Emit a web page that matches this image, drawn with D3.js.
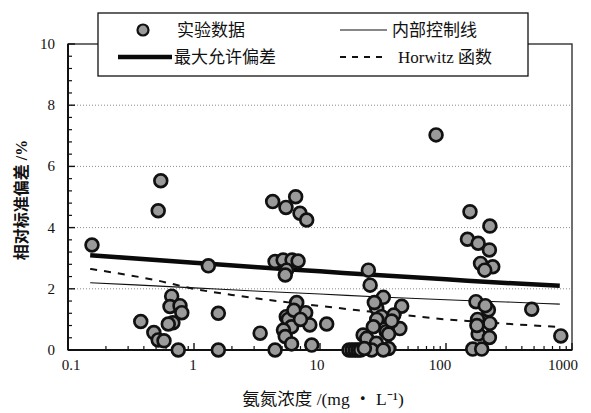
<!DOCTYPE html>
<html><head><meta charset="utf-8">
<script src="https://cdn.jsdelivr.net/npm/d3@7"></script>
<style>
html,body{margin:0;padding:0;background:#fff;}
svg{display:block;}
</style></head>
<body>
<svg id="chart" width="591" height="413"></svg>
<script>
// ---- data ----
const expConc = [
  0.155,
  0.545,0.52,1.30,0.665,0.645,0.774,0.80,0.68,0.625,0.378,0.48,0.52,0.578,0.75,1.56,1.56,
  4.21,5.37,6.41,6.94,7.84,
  4.40,5.10,6.00,6.70,5.43,5.30,
  6.53,7.70,5.40,5.60,5.95,8.30,5.13,5.30,5.95,4.40,11.3,3.35,8.60,6.20,7.00,
  24.2,25.0,
  31.8,44.5,38.5,28.2,30.8,28.2,26.5,33.5,43.0,22.0,23.5,28.0,35.0,35.0,25.7,31.8,17.0,18.0,19.0,20.0,21.0,22.5,27.0,37.0,
  83.4,155,223,148,180,221,188,235,203,
  173,217,178,223,180,221,163,192,205,176,479,815
];
const expRsd = [
  3.43,
  5.53,4.55,2.75,1.76,1.42,1.45,1.22,0.89,0.85,0.93,0.57,0.33,0.30,0.00,1.20,0.00,
  4.85,4.66,5.01,4.47,4.25,
  2.89,2.94,2.94,2.91,2.61,2.45,
  1.55,1.22,1.09,1.00,0.76,0.82,0.65,0.44,0.20,0.00,0.85,0.55,0.16,1.30,1.00,
  2.61,2.12,
  1.72,1.43,1.14,1.36,1.09,1.00,0.76,0.60,0.70,0.49,0.38,0.22,0.52,0.05,0.00,0.00,0.00,0.00,0.00,0.00,0.00,0.05,1.55,0.95,
  7.03,4.52,4.05,3.62,3.49,3.27,2.83,2.72,2.61,
  1.58,1.31,1.00,0.87,0.52,0.41,0.03,0.03,1.45,0.80,1.33,0.46
];
const lineConc   = [0.15, 1, 3, 10, 30, 100, 300, 800];
const controlRsd = [2.20, 2.03, 1.93, 1.83, 1.73, 1.64, 1.57, 1.50];
const maxRsd     = [3.10, 2.85, 2.71, 2.57, 2.44, 2.31, 2.19, 2.10];
const horwitzConc = [0.15, 0.3, 0.5, 1, 2, 5, 10, 20, 50, 100, 200, 500, 800];
const horwitzRsd  = [2.65, 2.45, 2.28, 2.00, 1.80, 1.58, 1.44, 1.30, 1.13, 1.00, 0.91, 0.80, 0.75];
const xTickValues = [0.1, 1, 10, 100, 1000];
const xTickLabels = ["0.1", "1", "10", "100", "1000"];
const yTickValues = [0, 2, 4, 6, 8, 10];
const yTickLabels = ["0", "2", "4", "6", "8", "10"];
const legendLabels = ["实验数据", "内部控制线", "最大允许偏差", "Horwitz 函数"];
const xTitle = "氨氮浓度 /(mg ・ L⁻¹)";
const yTitle = "相对标准偏差 /%";

// ---- layout ----
const L = 68, R = 572, T = 44, B = 350;
const svg = d3.select("#chart");
const serif = "'Liberation Serif','DejaVu Serif',serif";
const mixed = "'Liberation Serif','Noto Sans CJK SC',serif";

const x = d3.scaleLog().domain([0.1, 1000]).range([L, R]);
const y = d3.scaleLinear().domain([0, 10]).range([B, T]);

// gridlines
svg.append("g").selectAll("line").data([2,4,6,8]).join("line")
  .attr("x1", L).attr("x2", R).attr("y1", d => y(d)).attr("y2", d => y(d))
  .attr("stroke", "#8a8a8a").attr("stroke-width", 1).attr("stroke-dasharray", "1,2");

// frame
svg.append("rect").attr("x", L).attr("y", T).attr("width", R - L).attr("height", B - T)
  .attr("fill", "none").attr("stroke", "#222").attr("stroke-width", 1.3);
svg.append("line").attr("x1", L).attr("x2", L).attr("y1", T).attr("y2", B).attr("stroke", "#111").attr("stroke-width", 2);
svg.append("line").attr("x1", L).attr("x2", R).attr("y1", B).attr("y2", B).attr("stroke", "#111").attr("stroke-width", 2);

// x ticks (inside)
const xMinor = [];
for (let e = -1; e < 3; e++) for (let m = 2; m <= 9; m++) xMinor.push(m * Math.pow(10, e));
svg.append("g").selectAll("line").data(xMinor).join("line")
  .attr("x1", d => x(d)).attr("x2", d => x(d)).attr("y1", B).attr("y2", B - 4)
  .attr("stroke", "#111").attr("stroke-width", 1.2);
svg.append("g").selectAll("line").data(xTickValues).join("line")
  .attr("x1", d => x(d)).attr("x2", d => x(d)).attr("y1", B).attr("y2", B - 7)
  .attr("stroke", "#111").attr("stroke-width", 1.4);
const xLabelShift = [3, -1, -3, -6, -9];
svg.append("g").selectAll("text").data(xTickValues).join("text")
  .attr("x", (d, i) => x(d) + xLabelShift[i]).attr("y", 370).attr("text-anchor", "middle")
  .attr("font-family", serif).attr("font-size", 15).attr("fill", "#111")
  .text((d, i) => xTickLabels[i]);

// y ticks (inside)
const yMinor = d3.range(0, 10.001, 0.4).filter(v => Math.abs(v % 2) > 0.01 && Math.abs(v % 2 - 2) > 0.01);
svg.append("g").selectAll("line").data(yMinor).join("line")
  .attr("x1", L).attr("x2", L + 4).attr("y1", d => y(d)).attr("y2", d => y(d))
  .attr("stroke", "#111").attr("stroke-width", 1.2);
svg.append("g").selectAll("line").data(yTickValues).join("line")
  .attr("x1", L).attr("x2", L + 7).attr("y1", d => y(d)).attr("y2", d => y(d))
  .attr("stroke", "#111").attr("stroke-width", 1.4);
svg.append("g").selectAll("text").data(yTickValues).join("text")
  .attr("x", 55).attr("y", d => y(d) + 5).attr("text-anchor", "end")
  .attr("font-family", serif).attr("font-size", 15).attr("fill", "#111")
  .text((d, i) => yTickLabels[i]);

// lines
const lineGen = d3.line().x(d => x(d[0])).y(d => y(d[1])).curve(d3.curveMonotoneX);
svg.append("path").datum(lineConc.map((c, i) => [c, controlRsd[i]]))
  .attr("d", lineGen).attr("fill", "none").attr("stroke", "#111").attr("stroke-width", 1.1);
svg.append("path").datum(lineConc.map((c, i) => [c, maxRsd[i]]))
  .attr("d", lineGen).attr("fill", "none").attr("stroke", "#0a0a0a").attr("stroke-width", 4.5);
svg.append("path").datum(horwitzConc.map((c, i) => [c, horwitzRsd[i]]))
  .attr("d", lineGen).attr("fill", "none").attr("stroke", "#111").attr("stroke-width", 2)
  .attr("stroke-dasharray", "7,7");

// points
svg.append("g").selectAll("circle").data(expConc.map((c, i) => [c, expRsd[i]])).join("circle")
  .attr("cx", d => x(d[0])).attr("cy", d => y(d[1])).attr("r", 6.4)
  .attr("fill", "#9a9a9a").attr("stroke", "#111").attr("stroke-width", 2.7);

// legend
const lg = svg.append("g");
lg.append("rect").attr("x", 98).attr("y", 13).attr("width", 430).attr("height", 63)
  .attr("fill", "#fff").attr("stroke", "#111").attr("stroke-width", 1.3);
lg.append("circle").attr("cx", 143).attr("cy", 30).attr("r", 5.5)
  .attr("fill", "#9a9a9a").attr("stroke", "#111").attr("stroke-width", 2.2);
lg.append("line").attr("x1", 340).attr("x2", 387).attr("y1", 30).attr("y2", 30)
  .attr("stroke", "#111").attr("stroke-width", 1.1);
lg.append("line").attr("x1", 118).attr("x2", 172).attr("y1", 57).attr("y2", 57)
  .attr("stroke", "#0a0a0a").attr("stroke-width", 4.5);
lg.append("line").attr("x1", 340).attr("x2", 386).attr("y1", 57).attr("y2", 57)
  .attr("stroke", "#111").attr("stroke-width", 1.8).attr("stroke-dasharray", "6,6");
const legPos = [[177, 36], [392, 36], [174, 63], [398, 63]];
lg.selectAll("text").data(legendLabels).join("text")
  .attr("x", (d, i) => legPos[i][0]).attr("y", (d, i) => legPos[i][1])
  .attr("font-family", mixed).attr("font-size", 17).attr("fill", "#111")
  .text(d => d);

// axis titles
svg.append("text").attr("x", 323).attr("y", 405).attr("text-anchor", "middle")
  .attr("font-family", mixed).attr("font-size", 17.5).attr("fill", "#111").text(xTitle);
svg.append("text").attr("transform", "translate(27,200) rotate(-90)").attr("text-anchor", "middle")
  .attr("font-family", mixed).attr("font-size", 16).attr("font-weight", 700).attr("fill", "#111").text(yTitle);
</script>
</body></html>
